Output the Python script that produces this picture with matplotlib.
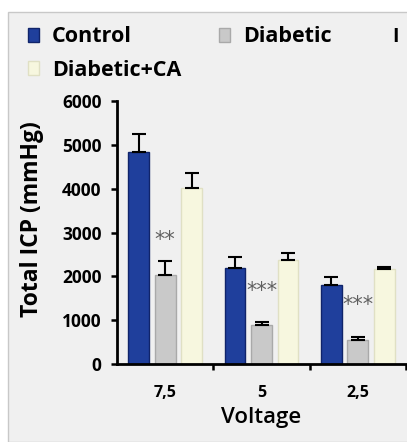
import numpy as np
import matplotlib.pyplot as plt
from matplotlib.patches import Rectangle

voltages = ["7,5", "5", "2,5"]
series = ["Control", "Diabetic", "Diabetic+CA"]
control = [4830, 2180, 1800]
control_err = [410, 260, 190]
diabetic = [2020, 900, 540]
diabetic_err = [340, 50, 85]
diabetic_ca = [4020, 2375, 2160]
diabetic_ca_err = [345, 150, 60]
stars = ["**", "***", "***"]
star_heights = [2830, 1660, 1350]

plt.rcParams["font.family"] = ["Open Sans", "DejaVu Sans"]
plt.rcParams["font.weight"] = "bold"

fig = plt.figure(figsize=(4.07, 4.42), dpi=100)
fig.patch.set_facecolor("white")
fig.patches.append(Rectangle((8 / 407, 0), 1, 1 - 12 / 442, transform=fig.transFigure,
                             facecolor="#f0f0f0", edgecolor="#c8c8c8", lw=1.0, zorder=-1))

ax = fig.add_axes([117 / 407, 1 - 364 / 442, 289 / 407, 263 / 442])
ax.set_facecolor("none")

x = np.arange(len(voltages))
w = 0.215
step = 0.276
colors = ["#1f3f9c", "#c9c9c9", "#f7f7df"]
edges = ["#10246a", "#a9a9a9", "#e0e0c4"]
vals = [control, diabetic, diabetic_ca]
errs = [control_err, diabetic_err, diabetic_ca_err]
for i, (v, e) in enumerate(zip(vals, errs)):
    ax.bar(x + (i - 1) * step, v, w, color=colors[i], edgecolor=edges[i], lw=1.0,
           yerr=[np.zeros(len(e)), e], capsize=5,
           error_kw=dict(ecolor="black", elinewidth=1.5, capthick=1.5), label=series[i])

for xi, s, h in zip(x, stars, star_heights):
    ax.text(xi, h, s, ha="center", va="center", fontsize=15, color="#606060",
            fontweight="normal", family="DejaVu Sans")

ax.set_xlim(-0.5, 2.5)
ax.set_ylim(0, 6000)
ax.set_yticks(np.arange(0, 6001, 1000))
ax.set_xticks(x)
ax.set_xticklabels(voltages, fontsize=11.5, fontweight="bold")
ax.set_xticks([0.5, 1.5, 2.5], minor=True)
ax.tick_params(axis="x", which="major", length=0, pad=15)
ax.tick_params(axis="x", which="minor", length=4, width=1.8, direction="out")
ax.tick_params(axis="y", length=4, width=1.8, labelsize=12.5, pad=7)
for lab in ax.get_yticklabels():
    lab.set_fontweight("bold")
for sp in ["top", "right"]:
    ax.spines[sp].set_visible(False)
for sp in ["left", "bottom"]:
    ax.spines[sp].set_linewidth(2.0)

ax.set_ylabel("Total ICP (mmHg)", fontsize=16.5, fontweight="bold")
ax.yaxis.set_label_coords(-(117 - 44) / 289, 0.55)
ax.set_xlabel("Voltage", fontsize=16, fontweight="semibold")
ax.xaxis.set_label_coords(0.5, -(407 - 364) / 263)

handles, labels = ax.get_legend_handles_labels()
legend_pos = [(28, 37), (219, 37), (28, 70)]
for h, l, (px, py) in zip(handles, labels, legend_pos):
    leg = fig.legend([h], [l], loc="center left", bbox_to_anchor=(px / 407, 1 - py / 442),
                     frameon=False, borderpad=0, borderaxespad=0,
                     handlelength=0.52, handleheight=0.62, handletextpad=0.6,
                     prop=dict(weight="bold", size=15.5))
fig.text(395 / 407, 1 - 37 / 442, "I", fontsize=14, fontweight="bold", ha="center", va="center")

fig.savefig("out.png", dpi=100)
